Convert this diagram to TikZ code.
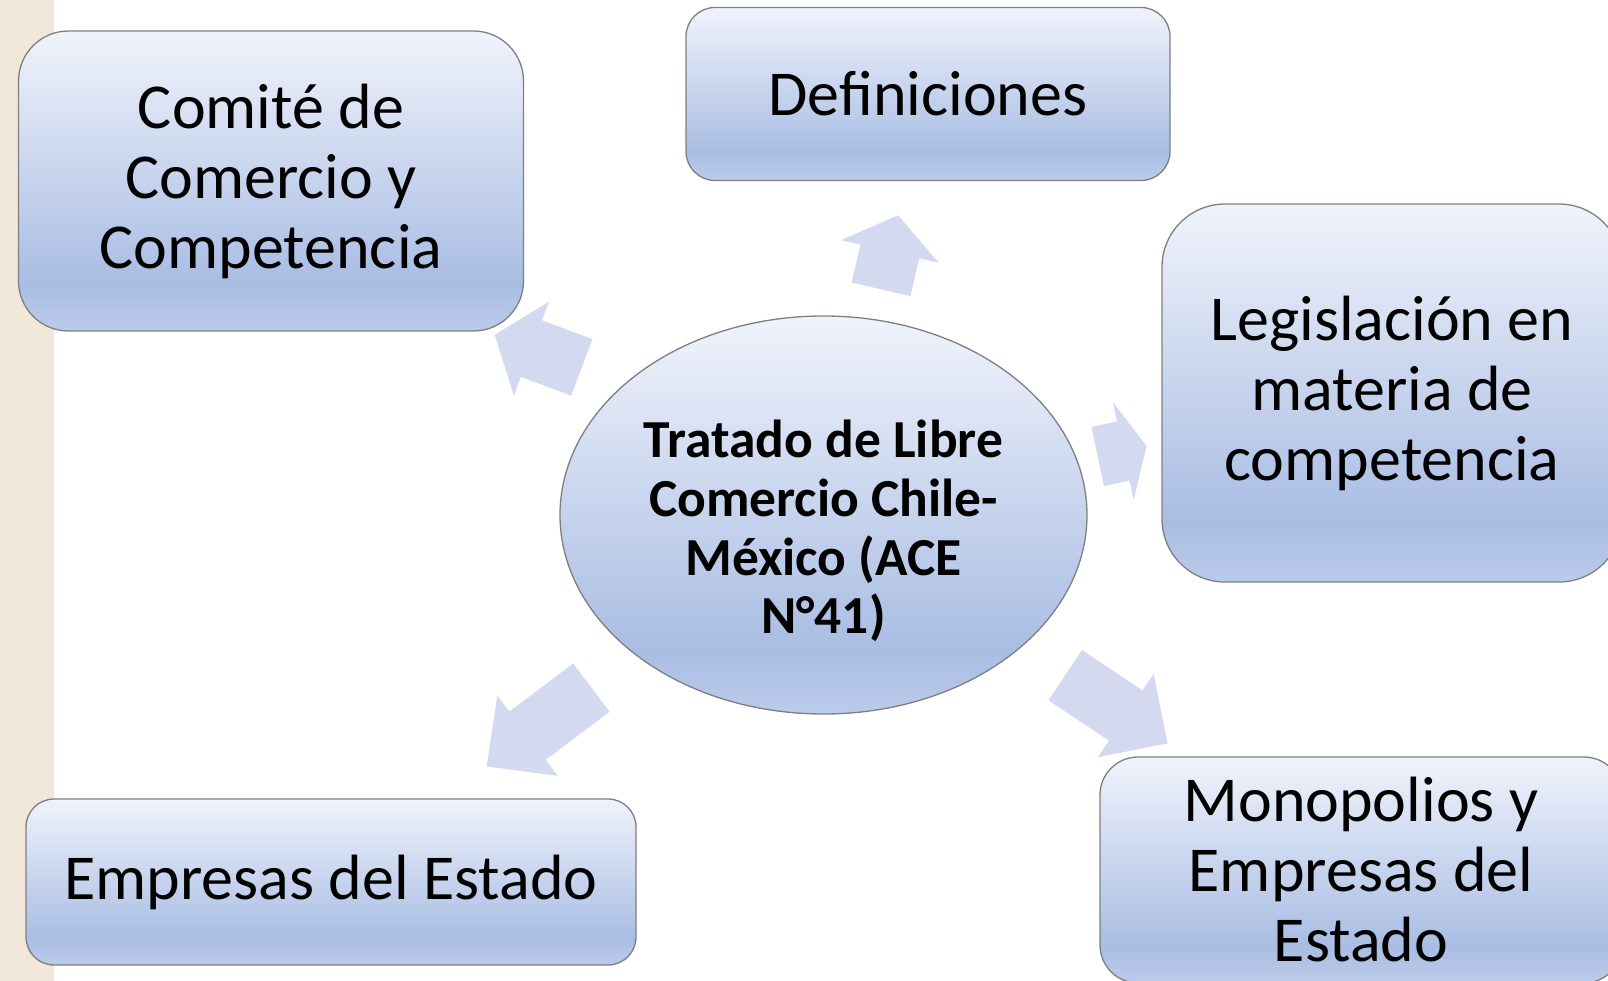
\documentclass[tikz,border=0pt]{standalone}
\usepackage{fontspec}
\setmainfont{Carlito}
\usetikzlibrary{shapes.geometric,shapes.arrows}

\definecolor{stripbg}{HTML}{F1E8D9}
\definecolor{shtop}{HTML}{F0F3FB}
\definecolor{shdeep}{HTML}{A9BDE3}
\definecolor{shbot}{HTML}{BCCBEA}
\definecolor{arrowfill}{HTML}{D3D9EE}
\definecolor{rim}{HTML}{7F7F7F}

\pgfdeclareverticalshading{smartshade}{100bp}{color(0bp)=(shbot); color(25bp)=(shbot); color(33bp)=(shdeep); color(75bp)=(shtop); color(100bp)=(shtop)}

\tikzset{
    topic/.style={draw=rim, line width=1.3pt, shading=smartshade, align=center, inner sep=0pt, font=\fontsize{64}{70}\selectfont},
    hub/.style={ellipse, draw=rim, line width=1.3pt, shading=smartshade, inner sep=0pt},
    hubtext/.style={align=center, font=\bfseries\fontsize{53.5}{58.8}\selectfont},
    radarrow/.style={single arrow, fill=arrowfill, draw=none, inner xsep=0pt, inner ysep=30pt, single arrow head extend=20pt, anchor=tail}
}

\begin{document}
\begin{tikzpicture}[x=1pt, y=-1pt]
            \useasboundingbox (0, 0) rectangle (1608, 981);
            \clip (0, 0) rectangle (1608, 981);

            % left strip of the slide
            \fill[stripbg] (0, 0) rectangle (54, 981);

            % arrows out of the centre
            \node[radarrow, rotate=77, minimum height=76pt, single arrow tip angle=107] (ar-def) at (881, 289.5) {};
            \node[radarrow, rotate=159.5, minimum height=93pt, single arrow tip angle=104] (ar-com) at (582, 367.5) {};
            \node[radarrow, rotate=12, minimum height=50pt, single arrow tip angle=129] (ar-leg) at (1097.5, 456.5) {};
            \node[radarrow, rotate=217, minimum height=131pt, single arrow tip angle=89] (ar-emp) at (591.5, 687.5) {};
            \node[radarrow, rotate=-33.7, minimum height=123pt, single arrow tip angle=90] (ar-mon) at (1065, 675) {};

            % the five topics
            \node[topic, rounded corners=50pt, minimum width=505pt, minimum height=300pt] (comite) at (271, 181) {Comité de\\Comercio y\\Competencia};
            \node[topic, rounded corners=29pt, minimum width=484pt, minimum height=173pt] (defin) at (928, 94) {Definiciones};
            \node[topic, rounded corners=63pt, minimum width=460pt, minimum height=378pt] (legis) at (1392, 393) {Legislación en\\materia de\\competencia};
            \node[topic, rounded corners=28pt, minimum width=610pt, minimum height=166pt] (empresas) at (331, 882) {Empresas del Estado};
            \node[topic, rounded corners=38pt, minimum width=522pt, minimum height=226pt] (monop) at (1361, 870) {Monopolios y\\Empresas del\\Estado};

            % centre
            \node[hub, minimum width=527pt, minimum height=398pt] (tlc) at (823.5, 515) {};
            \node[hubtext] (tlc-txt) at ([yshift=-16pt]tlc.center) {Tratado de Libre\\Comercio Chile-\\México (ACE\\N°41)};
        \end{tikzpicture}
\end{document}
